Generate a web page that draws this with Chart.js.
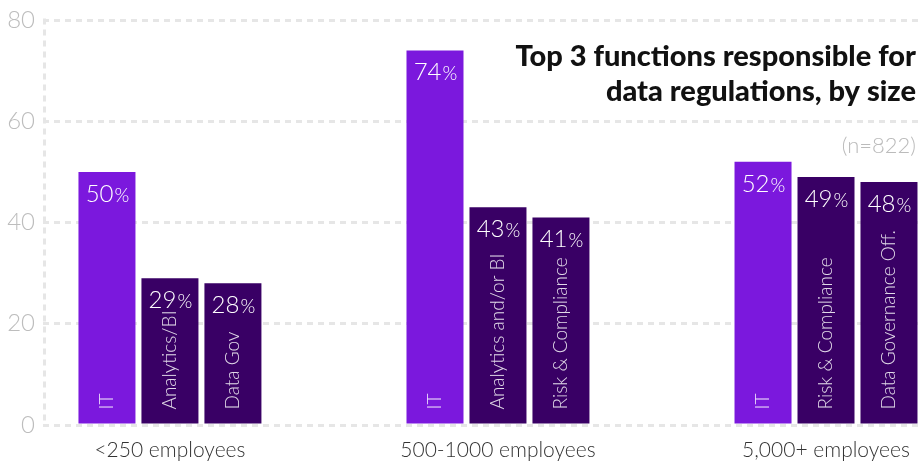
<!DOCTYPE html>
<html>
<head>
<meta charset="utf-8">
<script src="https://cdn.jsdelivr.net/npm/chart.js@4.4.1/dist/chart.umd.min.js"></script>
<style>
  html, body { margin: 0; padding: 0; background: #fff; }
  #wrap { width: 919px; height: 463px; position: relative; }
</style>
</head>
<body>
<div id="wrap"><canvas id="regChart"></canvas></div>
<script>
// company size groups
const groups = ["<250 employees", "500-1000 employees", "5,000+ employees"];

// top function per group and its share (%)
const firstNames = ["IT", "IT", "IT"];
const firstValues = [50, 74, 52];

// second function
const secondNames = ["Analytics/BI", "Analytics and/or BI", "Risk & Compliance"];
const secondValues = [29, 43, 49];

// third function
const thirdNames = ["Data Gov", "Risk & Compliance", "Data Governance Off."];
const thirdValues = [28, 41, 48];

const yTicks = [0, 20, 40, 60, 80];

const titleLines = ["Top 3 functions responsible for", "data regulations, by size"];
const sampleNote = "(n=822)";

const FONT = "Lato, 'Open Sans', sans-serif";
const BRIGHT = "#7b18dd";
const DARK = "#390065";
const GRID = "#e6e6e6";
const DASH = [6, 5];

function toPoints(values) {
  return values.map((v, i) => ({ x: i, y: v }));
}

// dashed vertical axis line on the left
const dashedAxis = {
  id: "dashedAxis",
  beforeDatasetsDraw(chart) {
    const { ctx, chartArea } = chart;
    const x = chartArea.left + 1.5;
    ctx.save();
    ctx.strokeStyle = GRID;
    ctx.lineWidth = 3;
    ctx.setLineDash(DASH);
    ctx.beginPath();
    ctx.moveTo(x, chartArea.top - 1.5);
    ctx.lineTo(x, chartArea.bottom);
    ctx.stroke();
    ctx.restore();
  },
};

// value on top of each bar and the function name written upwards at its foot
const barLabels = {
  id: "barLabels",
  afterDatasetsDraw(chart) {
    const ctx = chart.ctx;
    chart.data.datasets.forEach((ds, di) => {
      const meta = chart.getDatasetMeta(di);
      meta.data.forEach((bar, i) => {
        const value = ds.data[i].y;
        ctx.save();
        ctx.fillStyle = "#ffffff";
        ctx.textBaseline = "alphabetic";
        ctx.font = "300 24px " + FONT;
        const num = String(value);
        const wNum = ctx.measureText(num).width;
        ctx.font = "300 19px " + FONT;
        const wPct = ctx.measureText("%").width;
        const left = bar.x - (wNum + wPct) / 2;
        ctx.font = "300 24px " + FONT;
        ctx.textAlign = "left";
        ctx.fillText(num, left, bar.y + 30);
        ctx.font = "300 19px " + FONT;
        ctx.fillText("%", left + wNum + 1, bar.y + 30);

        // rotated name
        ctx.translate(bar.x, bar.base - 14);
        ctx.rotate(-Math.PI / 2);
        ctx.font = "300 19px " + FONT;
        ctx.fillStyle = "rgba(255,255,255,0.85)";
        ctx.textAlign = "left";
        ctx.textBaseline = "middle";
        ctx.fillText(ds.names[i], 0, 0);
        ctx.restore();
      });
    });
  },
};

// heading and sample size in the upper right corner
const heading = {
  id: "heading",
  afterDraw(chart) {
    const ctx = chart.ctx;
    ctx.save();
    ctx.textAlign = "right";
    ctx.textBaseline = "alphabetic";
    ctx.fillStyle = "#111111";
    ctx.font = "900 29px " + FONT;
    ctx.fillText(titleLines[0], 916, 66);
    ctx.fillText(titleLines[1], 916, 101);
    ctx.fillStyle = "#bbbbbb";
    ctx.font = "300 22px " + FONT;
    ctx.fillText(sampleNote, 916, 153);
    ctx.restore();
  },
};

const ctx = document.getElementById("regChart").getContext("2d");

new Chart(ctx, {
  type: "bar",
  data: {
    datasets: [
      { data: toPoints(firstValues), names: firstNames, backgroundColor: BRIGHT },
      { data: toPoints(secondValues), names: secondNames, backgroundColor: DARK },
      { data: toPoints(thirdValues), names: thirdNames, backgroundColor: DARK },
    ],
  },
  options: {
    responsive: true,
    maintainAspectRatio: false,
    animation: false,
    layout: { padding: { top: 20, right: 0, left: 0, bottom: 0 } },
    categoryPercentage: 0.576,
    barPercentage: 0.905,
    plugins: {
      legend: { display: false },
      tooltip: { enabled: false },
    },
    scales: {
      x: {
        type: "linear",
        offset: false,
        min: -0.387,
        max: 2.2835,
        grid: { display: false, drawTicks: false },
        border: { display: false },
        afterBuildTicks(scale) {
          scale.ticks = groups.map((_, i) => ({ value: i }));
        },
        afterFit(scale) {
          scale.height = 38;
          scale.paddingLeft = 0;
          scale.paddingRight = 0;
        },
        ticks: {
          autoSkip: false,
          maxRotation: 0,
          padding: 13,
          color: "#333333",
          font: { family: FONT, size: 21, weight: "300" },
          callback: (v) => groups[v] ?? "",
        },
      },
      y: {
        min: 0,
        max: 80,
        afterBuildTicks(scale) {
          scale.ticks = yTicks.map((v) => ({ value: v }));
        },
        afterFit(scale) {
          scale.width = 43;
          scale.paddingTop = 0;
          scale.paddingBottom = 0;
        },
        grid: {
          color: GRID,
          lineWidth: 3,
          drawTicks: false,
        },
        border: {
          display: false,
          dash: DASH,
        },
        ticks: {
          padding: 8,
          color: "#bdbdbd",
          font: { family: FONT, size: 24, weight: "300" },
        },
      },
    },
  },
  plugins: [dashedAxis, barLabels, heading],
});
</script>
</body>
</html>
